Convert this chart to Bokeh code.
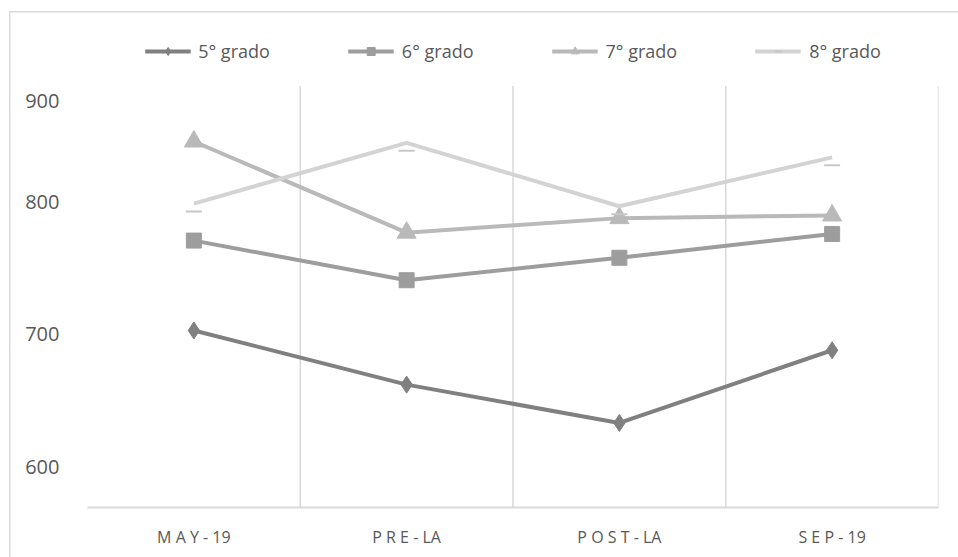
from bokeh.plotting import figure
from bokeh.models import Range1d, FixedTicker, Legend, LegendItem, ColumnDataSource
from bokeh.embed import file_html
from bokeh.resources import INLINE
from bokeh.transform import dodge

# ---- data ----
categories = ["M A Y - 19", "P R E - LA", "P O S T - LA", "S E P - 19"]
series_names = ["5° grado", "6° grado", "7° grado", "8° grado"]
grado5 = [703, 662, 633, 688]
grado6 = [771, 741, 758, 776]
grado7 = [846, 777, 788, 790]
grado8 = [799, 845, 797, 834]
y_tick_values = [600, 700, 800, 877]
y_tick_labels = ["600", "700", "800", "900"]

# value extent of the plot area (the frame also holds the legend above it)
Y_MIN, PLOT_TOP, Y_MAX = 569, 888, 930

x_index = [i + 0.5 for i in range(len(categories))]
grid_x = [i + 1 for i in range(len(categories))]

FONT = "Open Sans"
TXT = "#595959"
GRID = "#d9d9d9"

p = figure(width=958, height=557, output_backend="svg", toolbar_location=None,
           x_range=Range1d(0, len(categories)), y_range=Range1d(Y_MIN, Y_MAX),
           min_border_left=87, min_border_right=20, min_border_top=30, min_border_bottom=50,
           styles={"box-shadow": "inset 9px 11px 0 0 #ffffff, inset 10.5px 12.5px 0 0 #d9d9d9",
                   "background-color": "#ffffff"})
p.outline_line_color = None
p.background_fill_color = "white"
p.border_fill_alpha = 0

# axes
p.xaxis.ticker = FixedTicker(ticks=x_index)
p.xaxis.major_label_overrides = {x: c for x, c in zip(x_index, categories)}
p.xaxis.axis_line_color = GRID
p.xaxis.axis_line_width = 2
p.xaxis.major_tick_line_color = None
p.xaxis.minor_tick_line_color = None
p.xaxis.major_label_standoff = 12
p.xaxis.major_label_text_font = FONT
p.xaxis.major_label_text_font_size = "16px"
p.xaxis.major_label_text_color = TXT

p.yaxis.ticker = FixedTicker(ticks=y_tick_values)
p.yaxis.major_label_overrides = {v: l for v, l in zip(y_tick_values, y_tick_labels)}
p.yaxis.axis_line_color = None
p.yaxis.major_tick_line_color = None
p.yaxis.minor_tick_line_color = None
p.yaxis.major_label_standoff = 22
p.yaxis.major_label_text_font = FONT
p.yaxis.major_label_text_font_size = "20px"
p.yaxis.major_label_text_color = TXT

p.xgrid.grid_line_color = None
p.ygrid.grid_line_color = None
# vertical category separators, limited to the plot area
p.segment(x0=grid_x, y0=[Y_MIN] * len(grid_x), x1=grid_x, y1=[PLOT_TOP] * len(grid_x),
          line_color=GRID, line_width=1.5)

colors = ["#808080", "#9d9d9d", "#b9b9b9", "#d3d3d3"]
markers = ["diamond", "square", "triangle", "dash"]
sizes = [17, 15, 19, 16]
all_series = [grado5, grado6, grado7, grado8]

items = []
for name, vals, col, mk, sz in zip(series_names, all_series, colors, markers, sizes):
    src = ColumnDataSource(dict(x=x_index, y=vals))
    ln = p.line("x", "y", source=src, line_color=col, line_width=4)
    if mk == "dash":
        sc = p.scatter(x="x", y=dodge("y", -6, range=p.y_range), source=src, marker="dash",
                       size=sz, line_color="#c8c8c8", line_width=2)
    else:
        sc = p.scatter("x", "y", source=src, marker=mk, size=sz, fill_color=col,
                       line_color=col, line_width=1)
    items.append(LegendItem(label=name, renderers=[ln, sc]))

legend = Legend(items=items, orientation="horizontal", location="top_center",
                glyph_width=46, glyph_height=20, label_standoff=8, spacing=78,
                padding=0, margin=9, border_line_color=None, background_fill_alpha=0,
                label_text_font=FONT, label_text_font_size="18px", label_text_color=TXT)
p.add_layout(legend, "center")

open("out.html", "w").write(file_html(p, INLINE))
